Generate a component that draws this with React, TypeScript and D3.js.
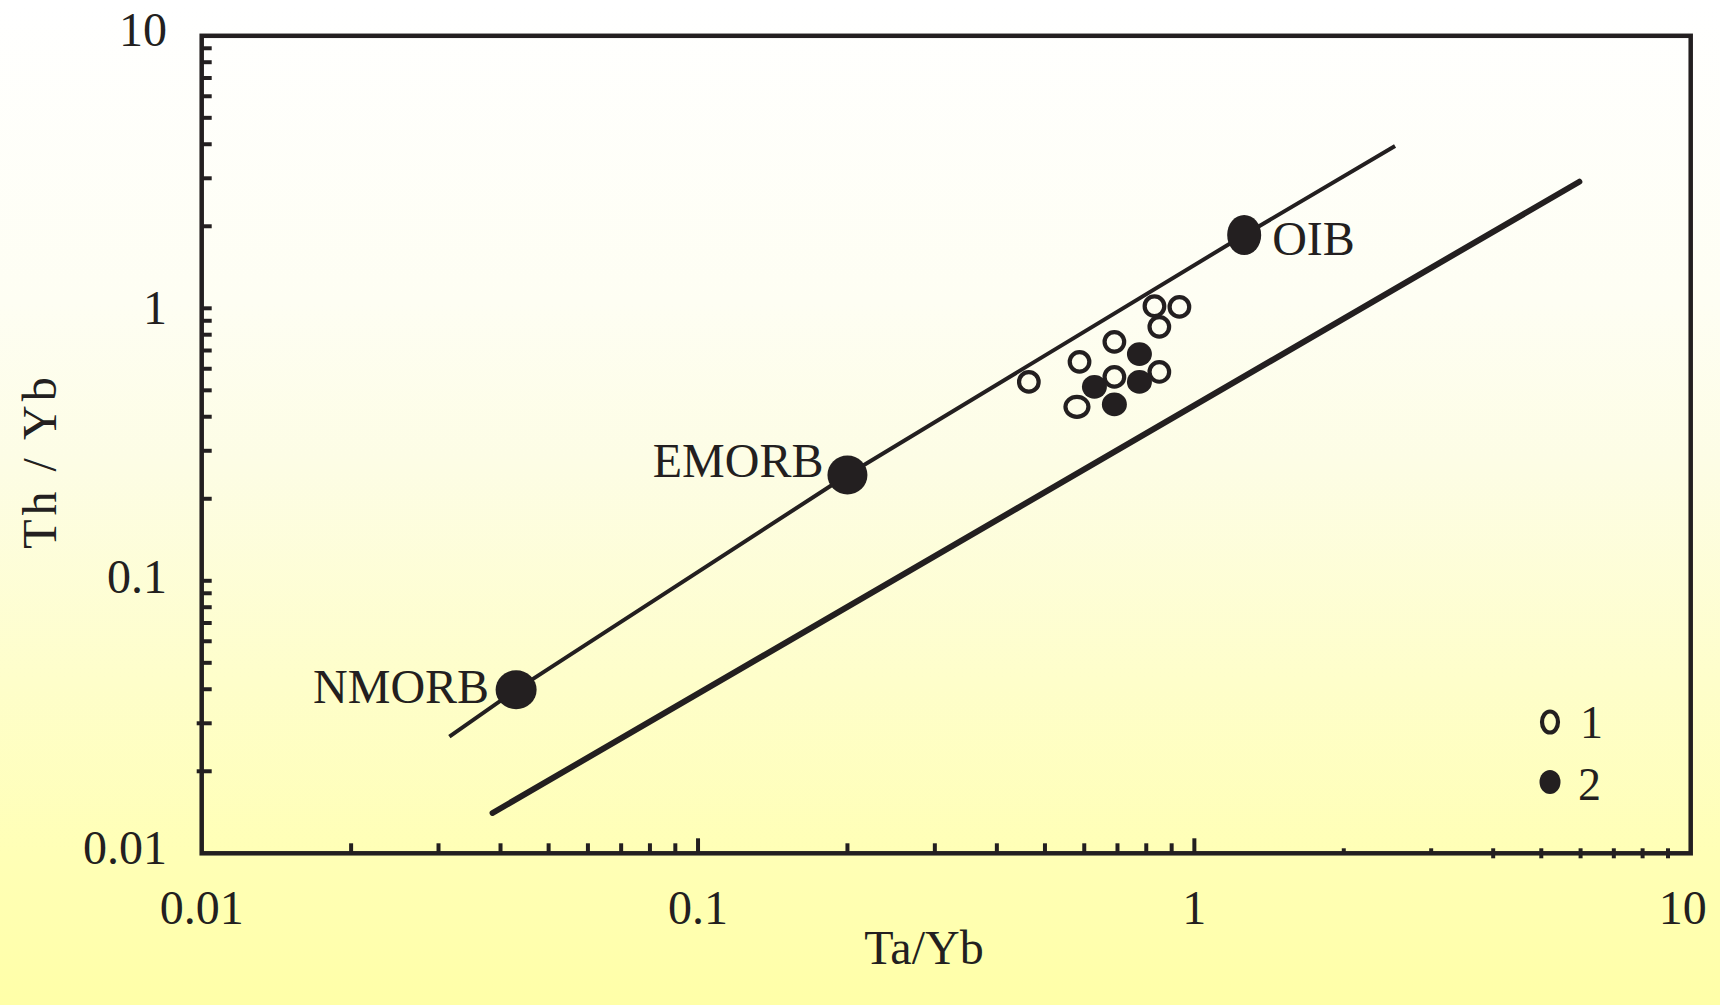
import React from "react";
import * as d3 from "d3";

// ---- data ----
const X_LABELS = ["0.01", "0.1", "1", "10"];
const X_LABEL_VALUES = [0.01, 0.1, 1, 10];
const Y_LABELS = ["10", "1", "0.1", "0.01"];
const Y_LABEL_VALUES = [10, 1, 0.1, 0.01];

// group 1 (open symbols)
const TA_YB_1 = [0.831, 0.933, 0.85, 0.69, 0.587, 0.464, 0.69, 0.85, 0.58];
const TH_YB_1 = [1.018, 1.012, 0.855, 0.753, 0.636, 0.537, 0.56, 0.584, 0.435];
// group 2 (filled symbols)
const TA_YB_2 = [0.775, 0.629, 0.775, 0.69];
const TH_YB_2 = [0.679, 0.515, 0.537, 0.444];

// reference compositions
const REF_NAMES = ["NMORB", "EMORB", "OIB"];
const REF_TA_YB = [0.043, 0.2, 1.26];
const REF_TH_YB = [0.0398, 0.2445, 1.858];

// MORB-OIB array (upper, thin) – passes through reference compositions
const ARRAY_TA_YB = [0.03155, 0.043, 0.2, 1.26, 2.537];
const ARRAY_TH_YB = [0.02679, 0.0398, 0.2445, 1.858, 3.94];
// lower boundary (thick)
const LOWER_TA_YB = [0.03855, 5.966];
const LOWER_TH_YB = [0.01406, 2.914];

const LEGEND_LABELS = ["1", "2"];

const INK = "#231f20";
const FONT = "'Liberation Serif', 'Times New Roman', serif";

export default function App() {
  const W = 1720;
  const H = 1005;
  const x = d3.scaleLog().domain([0.01, 10]).range([201.7, 1690.7]);
  const y = d3.scaleLog().domain([0.01, 10]).range([853.3, 35.8]);

  const line = d3
    .line<[number, number]>()
    .x((d) => x(d[0]))
    .y((d) => y(d[1]));

  const arrayPts: [number, number][] = ARRAY_TA_YB.map((v, i) => [v, ARRAY_TH_YB[i]]);
  const lowerPts: [number, number][] = LOWER_TA_YB.map((v, i) => [v, LOWER_TH_YB[i]]);

  const allTicks = x.ticks(); // 0.01..10, multiples 1-9
  const minorX = allTicks.filter((t) => !X_LABEL_VALUES.includes(+t.toPrecision(3)));
  const minorY = y.ticks().filter((t) => ![10, 0.01].includes(+t.toPrecision(3)));

  const x0 = x.range()[0];
  const x1 = x.range()[1];
  const yb = y.range()[0];
  const yt = y.range()[1];

  const refLabelPos = [
    { dx: -27, dy: 13, anchor: "end" },
    { dx: -24, dy: 2, anchor: "end" },
    { dx: 28, dy: 20, anchor: "start" },
  ];
  const refR = [
    [20.5, 19.5],
    [20, 19.5],
    [17, 20],
  ];

  return (
    <div style={{ position: "absolute", left: 0, top: 0 }}>
      <svg width={W} height={H} viewBox={`0 0 ${W} ${H}`} style={{ display: "block" }}>
        <defs>
          <linearGradient id="bg" x1="0" y1="0" x2="0" y2="1">
            <stop offset="0" stopColor="#ffffff" />
            <stop offset="0.3" stopColor="#fefef3" />
            <stop offset="0.46" stopColor="#fdfde5" />
            <stop offset="0.68" stopColor="#fefeca" />
            <stop offset="0.85" stopColor="#ffffb6" />
            <stop offset="1" stopColor="#ffffa8" />
          </linearGradient>
        </defs>
        <rect x={0} y={0} width={W} height={H} fill="url(#bg)" />

        {/* y minor ticks (inward) */}
        {minorY.map((t, i) => {
          const v = +t.toPrecision(3);
          const straddle = v === 0.02 || v === 0.03;
          return (
            <line
              key={"yt" + i}
              x1={straddle ? x0 - 5 : x0}
              x2={x0 + 10}
              y1={y(t)}
              y2={y(t)}
              stroke={INK}
              strokeWidth={4}
            />
          );
        })}

        {/* x minor ticks */}
        {minorX.map((t, i) => {
          const v = +t.toPrecision(3);
          if (v >= 1) {
            // last decade: small ticks on the axis line
            const small = v === 2 || v === 3;
            return (
              <line
                key={"xt" + i}
                x1={x(t)}
                x2={x(t)}
                y1={small ? yb - 5 : yb - 5}
                y2={small ? yb : yb + 5}
                stroke={INK}
                strokeWidth={4}
              />
            );
          }
          return (
            <line key={"xt" + i} x1={x(t)} x2={x(t)} y1={yb - 10} y2={yb} stroke={INK} strokeWidth={4} />
          );
        })}
        {/* major x ticks at 0.1 and 1 */}
        {[0.1, 1].map((t) => (
          <line key={"xm" + t} x1={x(t)} x2={x(t)} y1={yb - 15} y2={yb} stroke={INK} strokeWidth={4} />
        ))}

        {/* frame */}
        <rect x={x0} y={yt} width={x1 - x0} height={yb - yt} fill="none" stroke={INK} strokeWidth={4.5} />

        {/* boundary lines */}
        <path d={line(arrayPts) || ""} fill="none" stroke={INK} strokeWidth={4} strokeLinejoin="round" />
        <path d={line(lowerPts) || ""} fill="none" stroke={INK} strokeWidth={6} strokeLinecap="round" />

        {/* reference compositions */}
        {REF_NAMES.map((n, i) => {
          const cx = x(REF_TA_YB[i]);
          const cy = y(REF_TH_YB[i]);
          const p = refLabelPos[i];
          return (
            <g key={n}>
              <ellipse cx={cx} cy={cy} rx={refR[i][0]} ry={refR[i][1]} fill={INK} />
              <text
                x={cx + p.dx}
                y={cy + p.dy}
                textAnchor={p.anchor as any}
                fontFamily={FONT}
                fontSize={48}
                fill={INK}
              >
                {n}
              </text>
            </g>
          );
        })}

        {/* samples: group 1 open */}
        {TA_YB_1.map((v, i) => (
          <ellipse
            key={"o" + i}
            cx={x(v)}
            cy={y(TH_YB_1[i])}
            rx={i === 8 ? 11.5 : 9.8}
            ry={i === 8 ? 10 : 9.8}
            fill="none"
            stroke={INK}
            strokeWidth={4.2}
          />
        ))}
        {/* samples: group 2 filled */}
        {TA_YB_2.map((v, i) => (
          <ellipse key={"f" + i} cx={x(v)} cy={y(TH_YB_2[i])} rx={12.5} ry={11.8} fill={INK} />
        ))}

        {/* legend */}
        <ellipse cx={1550} cy={722} rx={8} ry={10.5} fill="none" stroke={INK} strokeWidth={4.2} />
        <ellipse cx={1550} cy={782} rx={10.5} ry={12} fill={INK} />
        <text x={1580} y={738} fontFamily={FONT} fontSize={46} fill={INK}>
          {LEGEND_LABELS[0]}
        </text>
        <text x={1578} y={800} fontFamily={FONT} fontSize={46} fill={INK}>
          {LEGEND_LABELS[1]}
        </text>

        {/* y tick labels */}
        {Y_LABELS.map((l, i) => {
          const baselines = [46, 324, 593, 864];
          return (
            <text key={"yl" + l} x={167} y={baselines[i]} textAnchor="end" fontFamily={FONT} fontSize={48} fill={INK}>
              {l}
            </text>
          );
        })}
        {/* x tick labels */}
        {X_LABELS.map((l, i) => {
          const v = X_LABEL_VALUES[i];
          const cx = v === 10 ? x(v) - 8 : x(v);
          return (
            <text key={"xl" + l} x={cx} y={924} textAnchor="middle" fontFamily={FONT} fontSize={48} fill={INK}>
              {l}
            </text>
          );
        })}

        {/* axis titles */}
        <text x={924} y={964} textAnchor="middle" fontFamily={FONT} fontSize={48} fill={INK}>
          Ta/Yb
        </text>
        <text
          transform="translate(56,461) rotate(-90)"
          textAnchor="middle"
          fontFamily={FONT}
          fontSize={48}
          letterSpacing={4}
          fill={INK}
        >
          Th / Yb
        </text>
      </svg>
    </div>
  );
}
